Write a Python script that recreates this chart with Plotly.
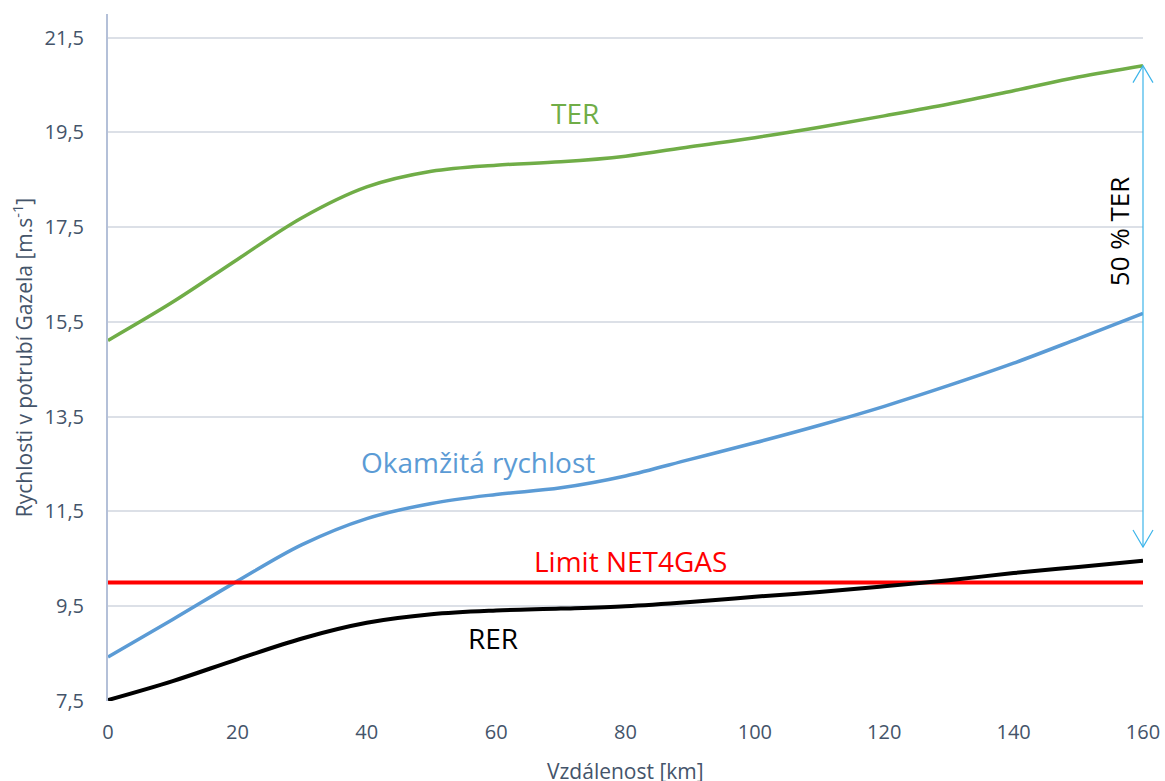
import plotly.graph_objects as go

# Distance along the pipeline [km]
distance_km = [0, 10, 20, 30, 40, 50, 60, 70, 80, 90, 100, 110, 120, 130, 140, 150, 160]

# Velocities [m/s]
ter = [15.11, 15.92, 16.82, 17.70, 18.35, 18.68, 18.81, 18.88, 19.00, 19.20, 19.39,
       19.61, 19.85, 20.10, 20.38, 20.67, 20.91]
okamzita = [8.43, 9.22, 10.03, 10.80, 11.35, 11.67, 11.86, 12.00, 12.25, 12.60, 12.95,
            13.32, 13.72, 14.16, 14.63, 15.15, 15.68]
rer = [7.52, 7.92, 8.38, 8.82, 9.15, 9.33, 9.41, 9.45, 9.50, 9.59, 9.70,
       9.80, 9.92, 10.05, 10.20, 10.33, 10.46]
limit_net4gas = 10.0

# Lower end of the "50 % TER" dimension arrow
arrow_bottom = 10.75

x_ticks = [0, 20, 40, 60, 80, 100, 120, 140, 160]
y_ticks = [7.5, 9.5, 11.5, 13.5, 15.5, 17.5, 19.5, 21.5]
y_ticktext = ["7,5", "9,5", "11,5", "13,5", "15,5", "17,5", "19,5", "21,5"]

X_RANGE = [0, 160]
Y_RANGE = [7.5, 22]

FONT = "Open Sans"
AXIS_TEXT = "#44546A"
GREEN = "#70AD47"
BLUE = "#5B9BD5"
ARROW = "#3DB5EA"

MARGIN = dict(l=108, r=22, t=14, b=80)
FIG_W, FIG_H = 1165, 781

fig = go.Figure()

fig.add_trace(go.Scatter(x=distance_km, y=ter, mode="lines", line=dict(color=GREEN, width=3.5, shape="spline", smoothing=1.0), hoverinfo="skip"))
fig.add_trace(go.Scatter(x=distance_km, y=okamzita, mode="lines", line=dict(color=BLUE, width=3.5, shape="spline", smoothing=1.0), hoverinfo="skip"))
fig.add_trace(go.Scatter(x=[distance_km[0], distance_km[-1]], y=[limit_net4gas, limit_net4gas], mode="lines", line=dict(color="#FF0000", width=4), hoverinfo="skip"))
fig.add_trace(go.Scatter(x=distance_km, y=rer, mode="lines", line=dict(color="#000000", width=4, shape="spline", smoothing=1.0), hoverinfo="skip"))

# Dimension arrow at the pipeline end (paper coordinates so the heads are not clipped)
W_PX = FIG_W - MARGIN["l"] - MARGIN["r"]
H_PX = FIG_H - MARGIN["t"] - MARGIN["b"]


def px(v):
    return (v - X_RANGE[0]) / (X_RANGE[1] - X_RANGE[0])


def py(v):
    return (v - Y_RANGE[0]) / (Y_RANGE[1] - Y_RANGE[0])


x_end = px(distance_km[-1])
y_top = py(ter[-1])
y_bot = py(arrow_bottom)
wing_x = 10 / W_PX
wing_y = 17 / H_PX

shapes = [
    dict(type="line", xref="paper", yref="paper", x0=x_end, x1=x_end, y0=y_bot, y1=y_top,
         line=dict(color=ARROW, width=1.2)),
    dict(type="path", xref="paper", yref="paper",
         path=f"M {x_end - wing_x},{y_top - wing_y} L {x_end},{y_top} L {x_end + wing_x},{y_top - wing_y}",
         line=dict(color=ARROW, width=1.2)),
    dict(type="path", xref="paper", yref="paper",
         path=f"M {x_end - wing_x},{y_bot + wing_y} L {x_end},{y_bot} L {x_end + wing_x},{y_bot + wing_y}",
         line=dict(color=ARROW, width=1.2)),
]

annotations = [
    dict(x=72.2, y=19.92, text="TER", font=dict(color=GREEN, size=28, family=FONT)),
    dict(x=57.2, y=12.55, text="Okamžitá rychlost", font=dict(color=BLUE, size=28, family=FONT)),
    dict(x=80.7, y=10.45, text="Limit NET4GAS", font=dict(color="#FF0000", size=28, family=FONT)),
    dict(x=59.5, y=8.84, text="RER", font=dict(color="#000000", size=28, family=FONT)),
    dict(x=156.4, y=17.41, text="50 % TER", textangle=-90, font=dict(color="#000000", size=26, family=FONT)),
]
for a in annotations:
    a.update(xref="x", yref="y", showarrow=False, xanchor="center", yanchor="middle")

# x-axis title sits low, partly below the page edge
annotations.append(dict(
    xref="paper", yref="paper", x=0.5, y=0, yshift=-70,
    xanchor="center", yanchor="middle", showarrow=False,
    text="Vzdálenost [km]", font=dict(size=21, color=AXIS_TEXT, family=FONT),
))

fig.update_layout(
    width=FIG_W,
    height=FIG_H,
    margin=MARGIN,
    paper_bgcolor="white",
    plot_bgcolor="white",
    showlegend=False,
    font=dict(family=FONT, color=AXIS_TEXT),
    shapes=shapes,
    annotations=annotations,
    xaxis=dict(
        range=X_RANGE,
        tickvals=x_ticks,
        showgrid=False,
        zeroline=False,
        showline=False,
        ticks="",
        automargin=False,
        tickfont=dict(size=20, color=AXIS_TEXT, family=FONT),
        ticklabelstandoff=17,
    ),
    yaxis=dict(
        range=Y_RANGE,
        tickvals=y_ticks,
        ticktext=y_ticktext,
        showgrid=True,
        gridcolor="#DCE0E7",
        gridwidth=2,
        zeroline=False,
        showline=True,
        linecolor="#B4C0D8",
        linewidth=2,
        ticks="",
        automargin=False,
        tickfont=dict(size=20, color=AXIS_TEXT, family=FONT),
        ticklabelstandoff=18,
        title=dict(text="Rychlosti v potrubí Gazela [m.s<sup>-1</sup>]", font=dict(size=21, color=AXIS_TEXT, family=FONT), standoff=6),
    ),
)

fig.write_html("out.html", config=dict(displayModeBar=False))
